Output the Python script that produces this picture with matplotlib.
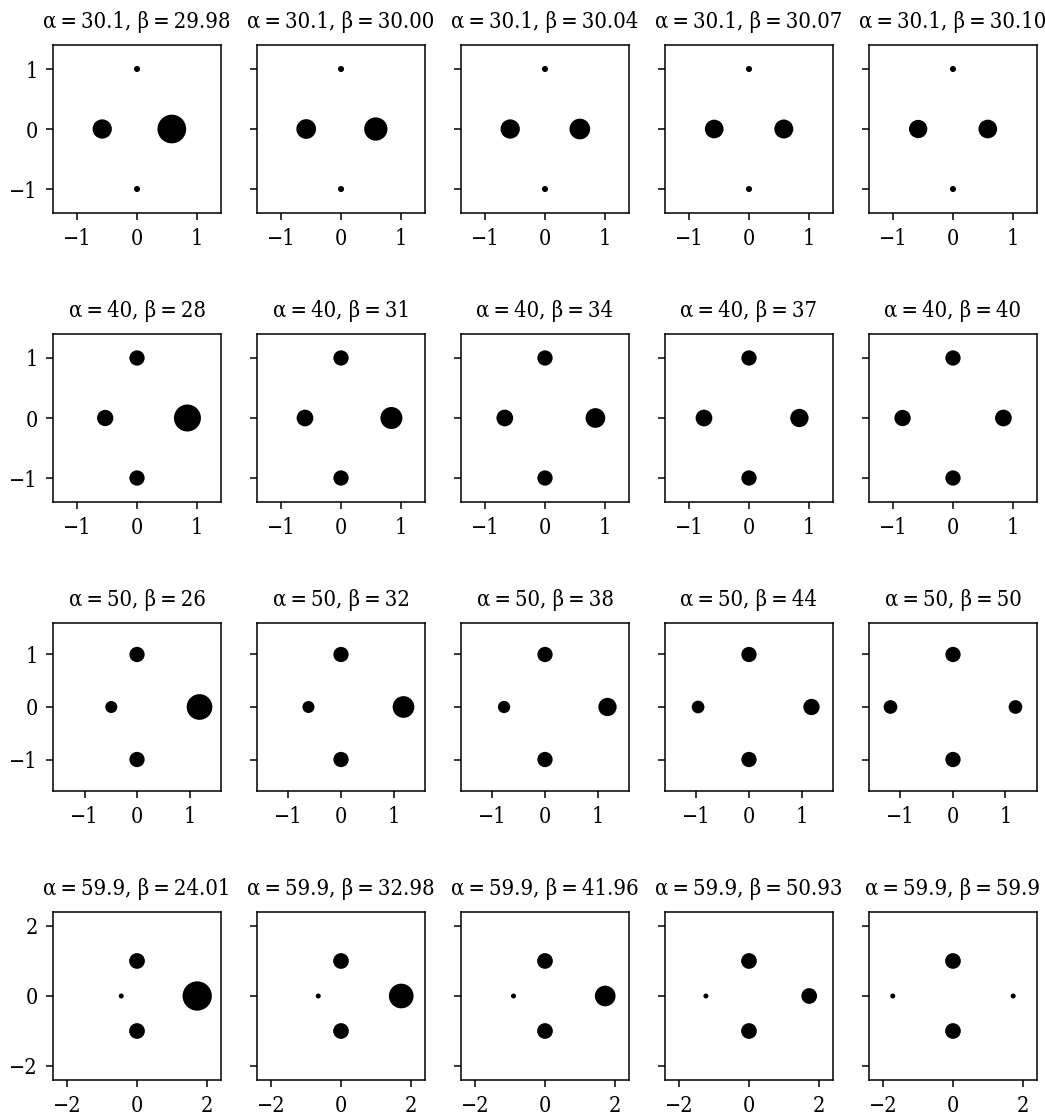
"""
grid of four-point configurations for several alpha / beta pairs
"""
import matplotlib

matplotlib.use("Agg")
import matplotlib.pyplot as plt

alpha_labels = ["30.1", "40", "50", "59.9"]
beta_labels = [
    ["29.98", "30.00", "30.04", "30.07", "30.10"],
    ["28", "31", "34", "37", "40"],
    ["26", "32", "38", "44", "50"],
    ["24.01", "32.98", "41.96", "50.93", "59.9"],
]

# x position of the left and right points on the horizontal axis
left_x = [
    [-0.58, -0.58, -0.58, -0.58, -0.58],
    [-0.53, -0.60, -0.67, -0.75, -0.84],
    [-0.49, -0.62, -0.78, -0.97, -1.19],
    [-0.45, -0.65, -0.90, -1.23, -1.72],
]
right_x = [
    [0.58, 0.58, 0.58, 0.58, 0.58],
    [0.84, 0.84, 0.84, 0.84, 0.84],
    [1.19, 1.19, 1.19, 1.19, 1.19],
    [1.72, 1.72, 1.72, 1.72, 1.72],
]
vertical_y = [1, -1]

# point weights (marker area)
left_w = [
    [193, 201, 193, 181, 174],
    [138, 145, 145, 145, 138],
    [75, 75, 78, 84, 97],
    [13, 13, 13, 13, 13],
]
right_w = [
    [427, 281, 222, 187, 181],
    [378, 251, 201, 174, 145],
    [342, 244, 174, 138, 97],
    [445, 316, 222, 128, 13],
]
vertical_w = [19, 121, 121, 128]

row_limits = [1.4, 1.4, 1.6, 2.4]
row_ticks = [[-1, 0, 1], [-1, 0, 1], [-1, 0, 1], [-2, 0, 2]]


def draw_grid():
    """
    draw one panel per alpha / beta pair and save the figure
    :return: None
    """
    plt.rcParams["font.family"] = ["DejaVu Serif"]
    plt.rcParams["font.stretch"] = "condensed"
    plt.rcParams["axes.linewidth"] = 1.1

    fig, axes = plt.subplots(4, 5, figsize=(10.45, 11.19), dpi=100)
    fig.subplots_adjust(left=53 / 1045, right=1037 / 1045,
                        top=1 - 45 / 1119, bottom=1 - 1080 / 1119,
                        wspace=0.214, hspace=0.72)

    thin = "\u2009"
    for row in range(4):
        for col in range(5):
            ax = axes[row, col]
            xs = [left_x[row][col], right_x[row][col], 0, 0]
            ys = [0, 0] + vertical_y
            sizes = [left_w[row][col], right_w[row][col],
                     vertical_w[row], vertical_w[row]]
            ax.scatter(xs, ys, s=sizes, c="black", linewidths=0)

            lim = row_limits[row]
            ax.set_xlim(-lim, lim)
            ax.set_ylim(-lim, lim)
            ax.set_xticks(row_ticks[row])
            ax.set_yticks(row_ticks[row])
            ax.tick_params(length=5, width=1.1, pad=6, labelsize=15.5)
            ax.tick_params(axis="y", pad=6)
            if col > 0:
                ax.set_yticklabels([])
            ax.set_title(f"α{thin}={thin}{alpha_labels[row]}, "
                         f"β{thin}={thin}{beta_labels[row][col]}",
                         fontsize=15.8, pad=12)

    fig.savefig("out.png", dpi=100, facecolor="white")


if __name__ == "__main__":
    draw_grid()
